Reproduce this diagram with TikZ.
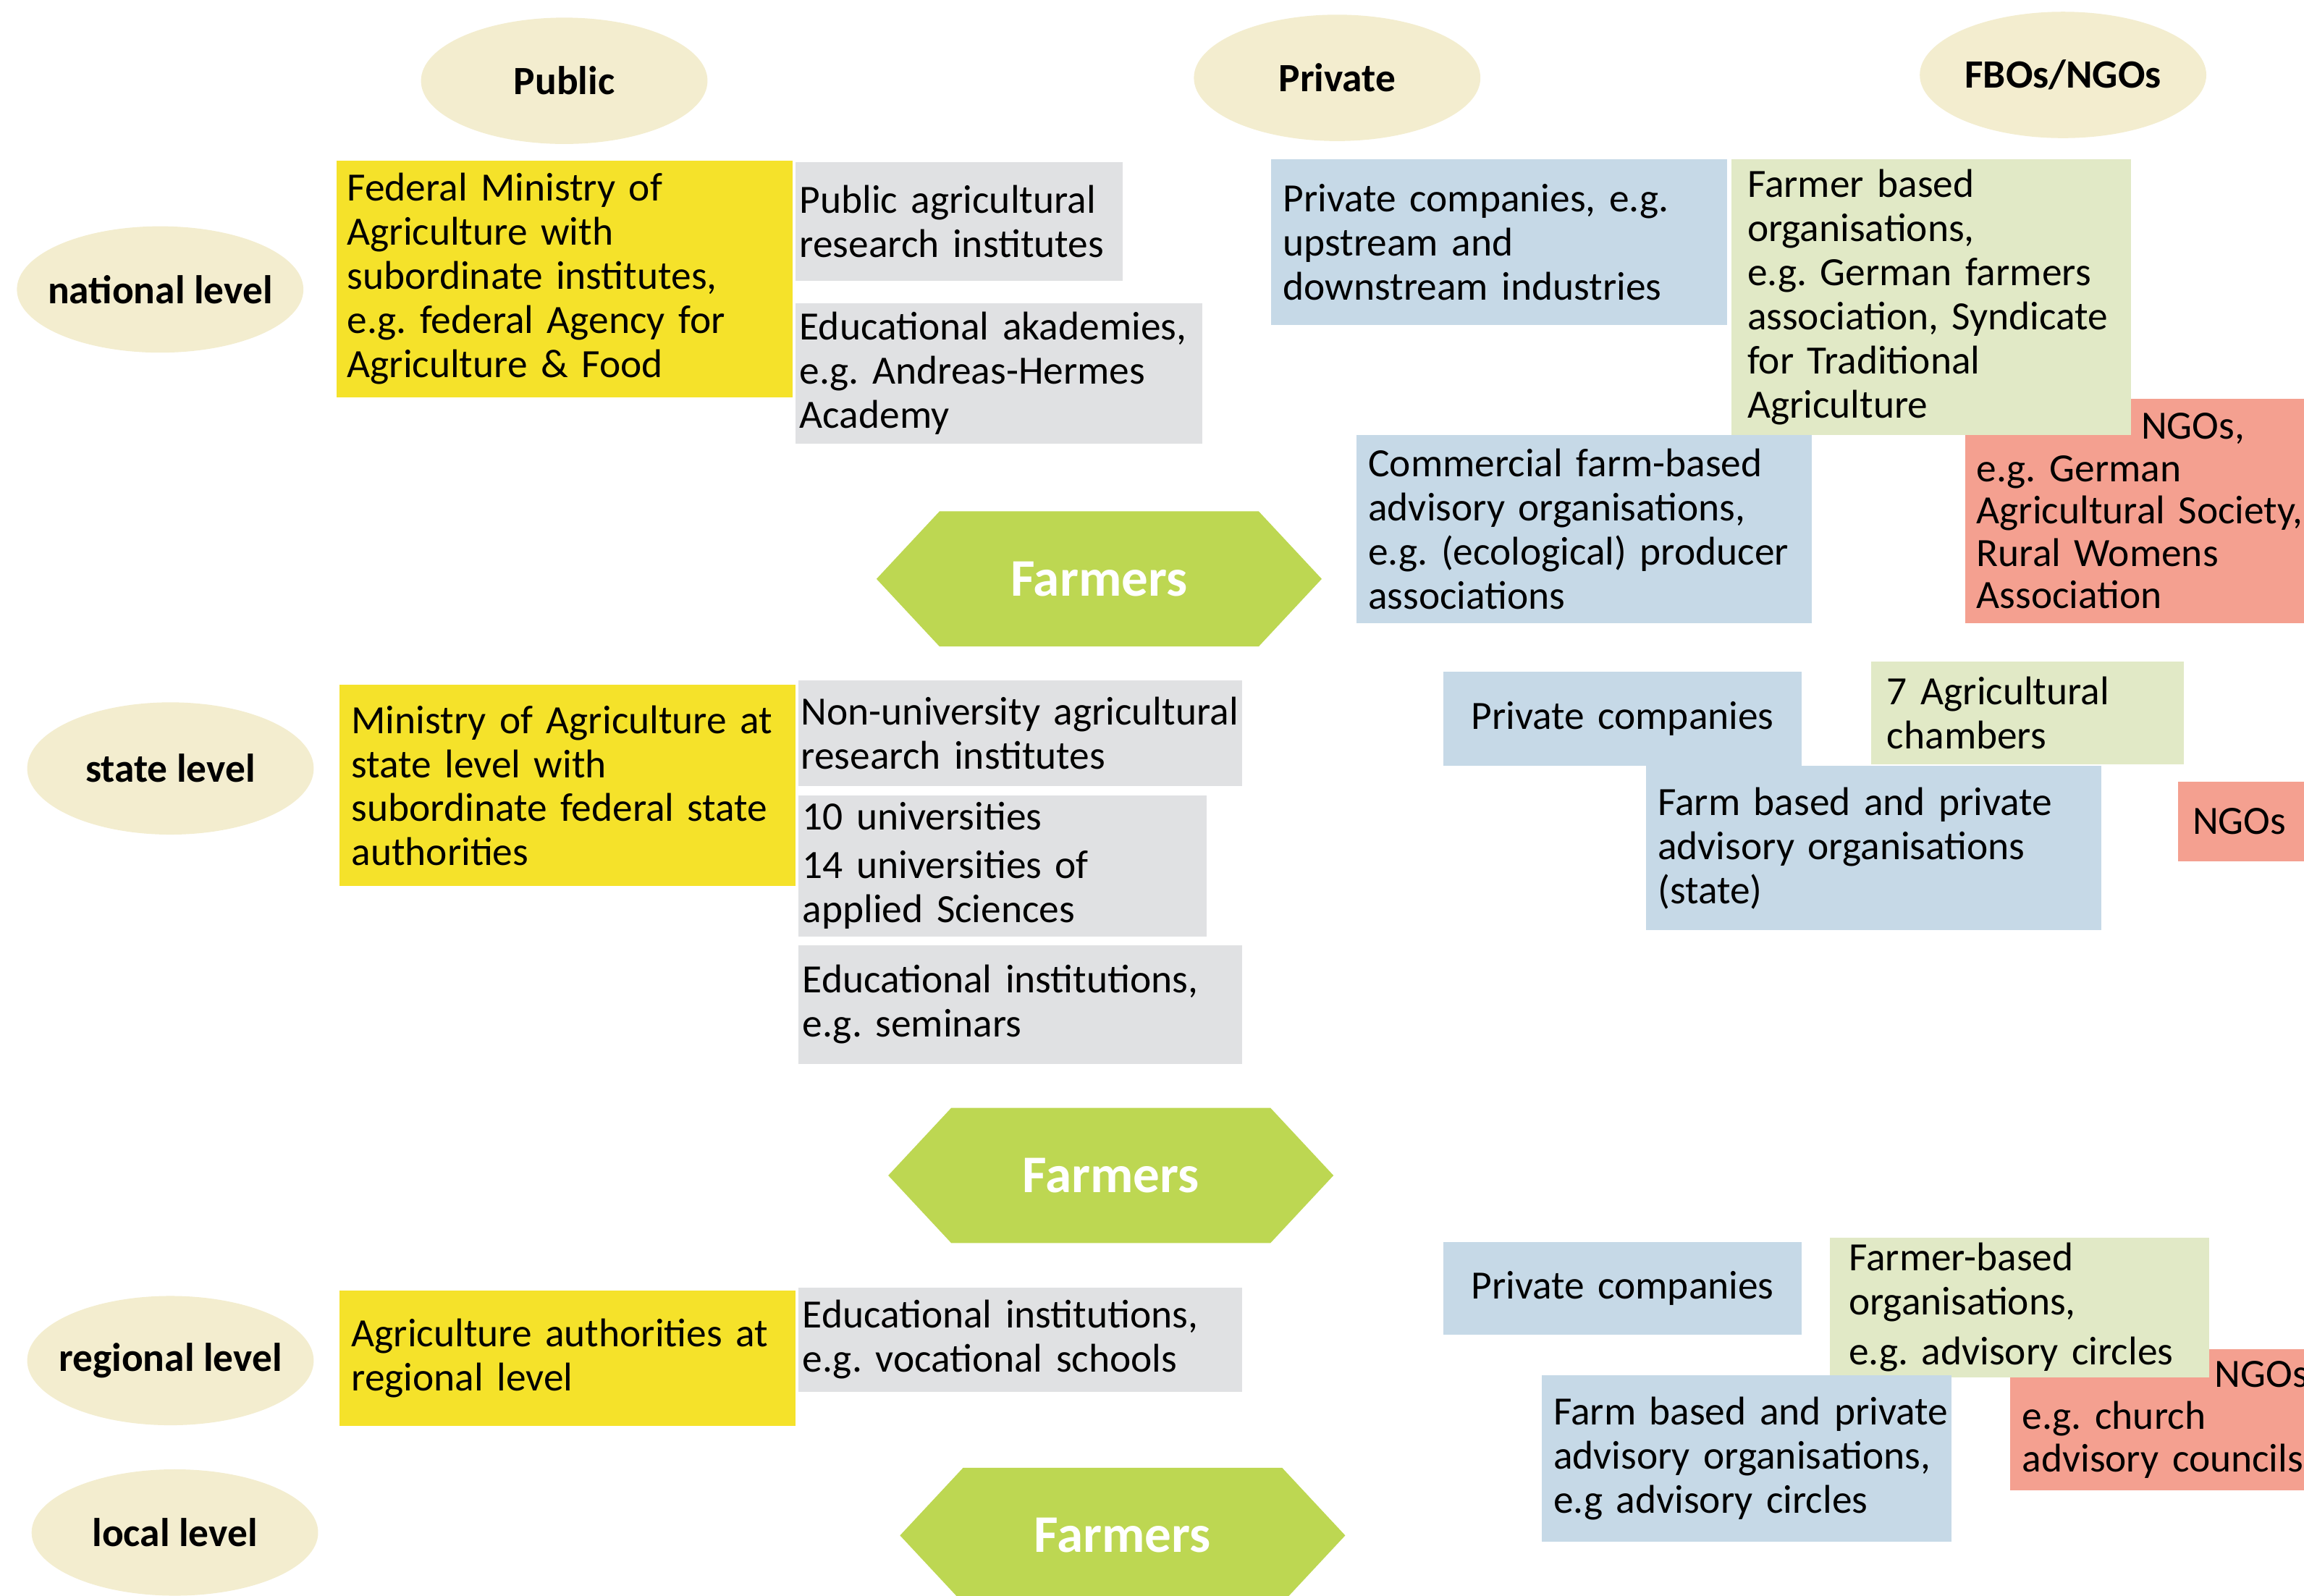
\documentclass[tikz,border=0pt]{standalone}
\usepackage{fontspec}
\setmainfont{Carlito}
\frenchspacing
\usetikzlibrary{shapes.geometric,shapes.symbols}
\definecolor{lvlcream}{HTML}{F3EDCF}
\definecolor{pubyellow}{HTML}{F5E22A}
\definecolor{pubgrey}{HTML}{E0E1E3}
\definecolor{privblue}{HTML}{C6D9E7}
\definecolor{fbogreen}{HTML}{E1E9C6}
\definecolor{ngored}{HTML}{F4A090}
\definecolor{farmgreen}{HTML}{BDD752}
\newcommand{\lvlname}[1]{\makebox[0pt]{#1}}
\tikzset{
  lvl/.style={ellipse, fill=lvlcream, inner sep=0pt, minimum width=195pt, minimum height=86pt,
    font=\fontsize{27.3}{30}\selectfont\bfseries},
  farm/.style={signal, signal to=east and west, signal pointer angle=94, fill=farmgreen, text=white,
    inner sep=0pt, minimum width=303pt, minimum height=92pt, font=\fontsize{36}{40}\selectfont\bfseries},
  box/.style={rectangle, anchor=north west, inner ysep=0pt, align=left, font=\fontsize{27.3}{30}\selectfont},
  ybox/.style={box, fill=pubyellow},
  gbox/.style={box, fill=pubgrey},
  bbox/.style={box, fill=privblue},
  fbox/.style={box, fill=fbogreen},
  rbox/.style={box, fill=ngored}
}

\begin{document}
\begin{tikzpicture}[x=1pt,y=-1pt]
\useasboundingbox (0,0) rectangle (1568,1086);
% column heads and levels
\node[lvl] (pub) at (384,55) {\lvlname{Public}};
\node[lvl] (priv) at (910,53) {\lvlname{Private}};
\node[lvl] (fbo) at (1404,51) {\lvlname{FBOs/NGOs}};
\node[lvl] (natl) at (109,197) {\lvlname{national level}};
\node[lvl, minimum height=90pt] (statel) at (116,523) {\lvlname{state level}};
\node[lvl, minimum height=88pt] (regl) at (116,926) {\lvlname{regional level}};
\node[lvl] (locl) at (119,1043) {\lvlname{local level}};

% farmers
\node[farm] (farmnat) at (748,394) {Farmers};
\node[farm] (farmstate) at (756,800) {Farmers};
\node[farm] (farmreg) at (764,1045) {Farmers};

% public
\node[ybox, text width=296pt, inner xsep=7pt, minimum height=161pt] (fedmin) at (229,109)
  {Federal Ministry of\\Agriculture with\\subordinate institutes,\\e.g. federal Agency for\\Agriculture \& Food};
\node[ybox, text width=294pt, inner xsep=8pt, minimum height=137pt] (statemin) at (231,466)
  {Ministry of Agriculture at\\state level with\\subordinate federal state\\authorities};
\node[ybox, text width=294pt, inner xsep=8pt, minimum height=92pt] (regauth) at (231,878)
  {Agriculture authorities at\\regional level};
\node[gbox, text width=217pt, inner xsep=3pt, minimum height=81pt] (pubres) at (541,110)
  {Public agricultural\\research institutes};
\node[gbox, text width=271pt, inner xsep=3pt, minimum height=96pt] (eduak) at (541,206)
  {Educational akademies,\\e.g. Andreas-Hermes\\Academy};
\node[gbox, text width=298pt, inner xsep=2pt, minimum height=72pt] (nonuni) at (543,463)
  {Non-university agricultural\\research institutes};
\node[gbox, text width=272pt, inner xsep=3pt, minimum height=96pt] (unis) at (543,541)
  {10 universities\\[3pt]14 universities of\\applied Sciences};
\node[gbox, text width=296pt, inner xsep=3pt, minimum height=81pt] (eduinst) at (543,643)
  {Educational institutions,\\e.g. seminars};
\node[gbox, text width=296pt, inner xsep=3pt, minimum height=71pt] (eduvoc) at (543,876)
  {Educational institutions,\\e.g. vocational schools};

% NGOs
\node[rbox, text width=244pt, inner xsep=8pt, minimum height=153pt, font=\fontsize{27.3}{28.8}\selectfont] (ngonat) at (1337,271)
  {\hspace*{112pt}NGOs,\\e.g. German\\Agricultural Society,\\Rural Womens\\Association};
\node[rbox, text width=80pt, inner xsep=10pt, minimum height=54pt] (ngostate) at (1482,532) {NGOs};
\node[rbox, text width=214pt, inner xsep=8pt, minimum height=96pt, font=\fontsize{27.3}{29}\selectfont] (ngoreg) at (1368,918)
  {\hspace*{131pt}NGOs\\e.g. church\\advisory councils};

% FBOs
\node[fbox, text width=250pt, inner xsep=11pt, minimum height=188pt] (fbonat) at (1178,108)
  {Farmer based\\organisations,\\e.g. German farmers\\association, Syndicate\\for Traditional\\Agriculture};
\node[fbox, text width=191pt, inner xsep=11pt, minimum height=70pt] (chambers) at (1273,450)
  {7 Agricultural\\chambers};
\node[fbox, text width=232pt, inner xsep=13pt, minimum height=95pt] (fboreg) at (1245,842)
  {Farmer-based\\organisations,\\[4pt]e.g. advisory circles};

% private
\node[bbox, text width=294pt, inner xsep=8pt, minimum height=113pt] (privnat) at (865,108)
  {Private companies, e.g.\\upstream and\\downstream industries};
\node[bbox, text width=294pt, inner xsep=8pt, minimum height=128pt] (commer) at (923,296)
  {Commercial farm-based\\advisory organisations,\\e.g. (ecological) producer\\associations};
\node[bbox, text width=244pt, inner xsep=0pt, minimum height=64pt, align=center] (privstate) at (982,457)
  {Private companies};
\node[bbox, text width=294pt, inner xsep=8pt, minimum height=112pt] (advstate) at (1120,521)
  {Farm based and private\\advisory organisations\\(state)};
\node[bbox, text width=263pt, inner xsep=8pt, minimum height=113pt] (advreg) at (1049,936)
  {\mbox{Farm based and private}\\\mbox{advisory organisations,}\\\mbox{e.g advisory circles}};
\node[bbox, text width=244pt, inner xsep=0pt, minimum height=63pt, align=center] (privreg) at (982,845)
  {Private companies};
\end{tikzpicture}
\end{document}
